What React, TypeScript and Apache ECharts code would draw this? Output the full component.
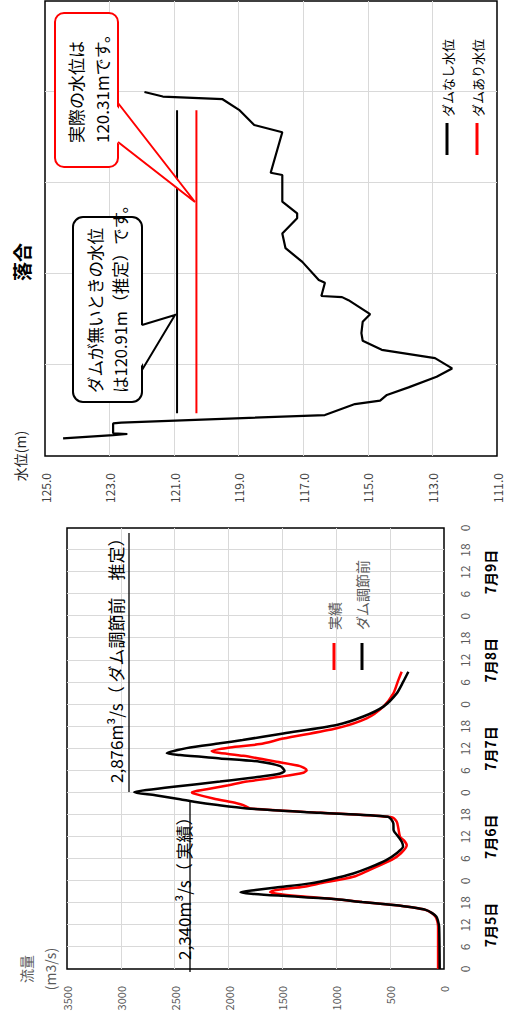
import React, { useEffect, useRef } from "react";
import * as echarts from "echarts";

// ---- Flow chart (流量) ----
const dayLabels = ["7月5日", "7月6日", "7月7日", "7月8日", "7月9日"];
// 実績 (actual outflow)
const actualHours = [0, 11.5, 13.0, 14.2, 15.2, 16.1, 16.8, 17.4, 18.2, 19.0, 19.7, 20.3, 20.9, 21.5, 22.4, 23.3, 25.1, 27.0, 29.7, 31.5, 33.7, 35.0, 36.0, 38.3, 40.1, 41.3, 42.5, 43.7, 44.6, 45.1, 46.4, 47.8, 48.1, 48.9, 50.0, 51.0, 52.3, 53.4, 54.1, 55.2, 56.4, 58.0, 58.9, 59.3, 60.3, 61.2, 62.7, 65.5, 68.2, 71.4, 75.0, 78.6, 80.9];
const actualFlow = [55, 55, 62, 78, 112, 172, 300, 470, 760, 1000, 1300, 1500, 1615, 1560, 1300, 1150, 842, 690, 486, 400, 346, 372, 408, 424, 439, 486, 1130, 1800, 1863, 1925, 2142, 2328, 2340, 2203, 2000, 1832, 1523, 1306, 1275, 1337, 1553, 1863, 2110, 2157, 1987, 1708, 1492, 996, 718, 563, 470, 424, 393];
// ダム調節前 (before dam regulation, estimated)
const preHours = [0, 11.5, 13.0, 14.2, 15.2, 16.1, 16.8, 17.4, 18.2, 19.0, 19.9, 20.5, 20.9, 21.5, 22.2, 23.3, 24.5, 26.0, 27.5, 29.7, 31.5, 33.3, 34.5, 36.0, 37.8, 39.6, 41.4, 42.5, 43.7, 44.6, 45.5, 46.2, 47.3, 48.1, 48.7, 49.6, 51.0, 52.3, 53.2, 53.9, 55.2, 56.4, 57.3, 58.2, 58.7, 60.1, 61.4, 62.3, 64.1, 66.4, 68.7, 71.4, 75.0, 78.2, 80.9];
const preFlow = [40, 45, 55, 70, 110, 170, 300, 470, 760, 1000, 1490, 1790, 1890, 1750, 1560, 1244, 1040, 842, 700, 532, 440, 380, 390, 424, 468, 470, 520, 1150, 1830, 2100, 2320, 2450, 2680, 2876, 2760, 2510, 2080, 1710, 1520, 1480, 1520, 1710, 2080, 2450, 2574, 2390, 2080, 1870, 1492, 996, 749, 563, 439, 378, 331];

// ---- Water level chart (落合) ----
const levelHours = [4.66, 5.5, 5.8, 6.0, 8.6, 8.8, 10.8, 13.7, 14.6, 16.1, 18.1, 20.9, 23.1, 25.8, 28.0, 30.4, 32.4, 35.4, 37.4, 41.1, 41.9, 42.2, 45.7, 46.4, 51.2, 54.8, 58.7, 62.7, 64.0, 67.1, 74.1, 74.7, 85.4, 87.3, 91.3, 94.1, 94.8, 96.0];
const levelNoDam = [124.44, 122.89, 122.45, 122.89, 122.89, 122.64, 116.33, 115.4, 114.62, 114.41, 113.74, 112.87, 112.39, 112.92, 114.57, 115.16, 115.2, 115.16, 114.93, 115.6, 115.8, 116.44, 116.33, 116.52, 117.03, 117.55, 117.65, 117.19, 117.19, 117.65, 117.65, 118.01, 117.65, 118.52, 118.99, 119.5, 121.35, 121.92];
const peakLevelNoDam = 120.91;
const peakLevelWithDam = 120.31;
const peakLineHours = [11.25, 91.2];

const FONT = "'Noto Sans CJK JP', 'Noto Sans', sans-serif";

function App() {
  const ref = useRef<HTMLDivElement>(null);
  useEffect(() => {
    if (!ref.current) return;
    const chart = echarts.init(ref.current, undefined, { renderer: "svg" });
    const gridLine = { color: "#d9d9d9", width: 1 };
    const option: any = {
      animation: false,
      backgroundColor: "#fff",
      textStyle: { fontFamily: FONT },
      grid: [
        { left: 55, top: 67, width: 441, height: 377, show: true, borderColor: "#000", borderWidth: 1.5, backgroundColor: "transparent", containLabel: false, outerBoundsMode: "none" },
        { left: 568, top: 45, width: 455, height: 452, show: true, borderColor: "#000", borderWidth: 1.5, backgroundColor: "transparent", containLabel: false, outerBoundsMode: "none" },
      ],
      legend: [
        {
          data: ["実績", "ダム調節前"], orient: "vertical", left: 354, top: 326, icon: "rect", padding: 0,
          itemWidth: 27, itemHeight: 3, itemGap: 12, selectedMode: false,
          textStyle: { color: "#595959", fontSize: 14, lineHeight: 16, padding: [0, 0, 0, 8], fontFamily: FONT },
        },
        {
          data: ["ダムなし水位", "ダムあり水位"], orient: "vertical", left: 869, top: 439, icon: "rect", padding: 0,
          itemWidth: 32, itemHeight: 3, itemGap: 14, selectedMode: false,
          textStyle: { color: "#000", fontSize: 13, lineHeight: 16, padding: [0, 0, 0, 1], fontFamily: FONT },
        },
      ],
      xAxis: [
        {
          gridIndex: 0, type: "value", position: "bottom", min: 0, max: 120, interval: 6,
          axisLine: { show: false }, axisTick: { show: false },
          splitLine: { show: true, lineStyle: gridLine, showMinLine: false, showMaxLine: false },
          axisLabel: { formatter: (v: number) => String(v % 24), color: "#595959", fontSize: 12, margin: 14 },
        },
        {
          gridIndex: 0, type: "value", position: "bottom", offset: 0, min: 0, max: 120, interval: 12,
          axisLine: { show: false }, axisTick: { show: false }, splitLine: { show: false },
          axisLabel: {
            formatter: (v: number) => (v % 24 === 12 ? dayLabels[Math.floor(v / 24)] : ""),
            color: "#000", fontWeight: "bold", fontSize: 14, margin: 39,
          },
        },
        {
          gridIndex: 1, type: "value", min: 0, max: 120, interval: 24,
          axisLine: { show: false }, axisTick: { show: false }, axisLabel: { show: false },
          splitLine: { show: true, lineStyle: gridLine, showMinLine: false, showMaxLine: false },
        },
      ],
      yAxis: [
        {
          gridIndex: 0, type: "value", min: 0, max: 3500, interval: 500,
          name: "流量\n(m3/s)", nameLocation: "end", nameGap: -2,
          nameTextStyle: { color: "#595959", fontSize: 14, lineHeight: 24, align: "center", verticalAlign: "bottom" },
          axisLine: { show: false }, axisTick: { show: false },
          splitLine: { show: true, lineStyle: gridLine, showMinLine: false, showMaxLine: false },
          axisLabel: { formatter: (v: number) => String(v), color: "#595959", fontSize: 11, margin: 17 },
        },
        {
          gridIndex: 1, type: "value", min: 111, max: 125, interval: 2,
          name: "水位(m)", nameLocation: "end", nameGap: 18,
          nameTextStyle: { color: "#222", fontSize: 14, align: "center", verticalAlign: "bottom" },
          axisLine: { show: false }, axisTick: { show: false },
          splitLine: { show: true, lineStyle: gridLine, showMinLine: false, showMaxLine: false },
          axisLabel: { formatter: (v: number) => v.toFixed(1), color: "#404040", fontSize: 12, lineHeight: 10, margin: 17 },
        },
      ],
      series: [
        {
          name: "実績", type: "line", xAxisIndex: 0, yAxisIndex: 0, color: "#ff0000",
          data: actualHours.map((h, i) => [h, actualFlow[i]]),
          symbol: "none", smooth: 0.25, lineStyle: { width: 2.5 },
        },
        {
          name: "ダム調節前", type: "line", xAxisIndex: 0, yAxisIndex: 0, color: "#000000",
          data: preHours.map((h, i) => [h, preFlow[i]]),
          symbol: "none", smooth: 0.25, lineStyle: { width: 2.5 },
        },
        {
          name: "ダムなし水位", type: "line", xAxisIndex: 2, yAxisIndex: 1, color: "#000000",
          data: levelHours.map((h, i) => [h, levelNoDam[i]]),
          symbol: "none", lineStyle: { width: 2.2 },
        },
        {
          name: "ダムあり水位", type: "line", xAxisIndex: 2, yAxisIndex: 1, color: "#ff0000",
          data: peakLineHours.map((h) => [h, peakLevelWithDam]),
          symbol: "none", lineStyle: { width: 2 },
        },
        {
          name: "ダムなし最高水位", type: "line", xAxisIndex: 2, yAxisIndex: 1, color: "#000000",
          data: peakLineHours.map((h) => [h, peakLevelNoDam]),
          symbol: "none", lineStyle: { width: 2 },
        },
      ],
      graphic: {
        elements: [
          { type: "text", x: 762, y: 21, z: 100, style: { text: "落合", fontSize: 19, fontWeight: "bold", fill: "#000", align: "center", verticalAlign: "middle", fontFamily: FONT } },
          // flow annotations
          { type: "line", z: 100, shape: { x1: 52, y1: 190, x2: 224, y2: 190 }, style: { stroke: "#000", lineWidth: 1.3 } },
          { type: "text", x: 64, y: 183.5, z: 100, style: { text: "2,340m³/s（ 実績）", fontSize: 17, fill: "#000", align: "left", verticalAlign: "middle", fontFamily: FONT } },
          { type: "line", z: 100, shape: { x1: 232, y1: 129, x2: 491, y2: 129 }, style: { stroke: "#000", lineWidth: 1.3 } },
          { type: "text", x: 241, y: 115, z: 100, style: { text: "2,876m³/s（ ダム調節前　推定）", fontSize: 17, fill: "#000", align: "left", verticalAlign: "middle", fontFamily: FONT } },
          // red callout
          { type: "rect", z: 100, shape: { x: 857, y: 55, width: 154, height: 63, r: 9 }, style: { fill: "#fff", stroke: "#ff0000", lineWidth: 2 } },
          { type: "polygon", z: 101, shape: { points: [[920, 115], [883, 115], [822, 195]] }, style: { fill: "#fff" } },
          { type: "polyline", z: 102, shape: { points: [[921, 118], [822, 195], [882, 118]] }, style: { stroke: "#ff0000", lineWidth: 2, fill: null } },
          { type: "text", x: 881, y: 62.5, z: 103, style: { text: "実際の水位は\n120.31mです。", fontSize: 17, lineHeight: 26, fill: "#000", align: "left", verticalAlign: "top", fontFamily: FONT } },
          // black callout
          { type: "rect", z: 100, shape: { x: 622, y: 73, width: 185, height: 69, r: 10 }, style: { fill: "#fff", stroke: "#000", lineWidth: 2 } },
          { type: "polygon", z: 101, shape: { points: [[698, 139], [655, 139], [709, 175]] }, style: { fill: "#fff" } },
          { type: "polyline", z: 102, shape: { points: [[699, 142], [709, 175], [654, 142]] }, style: { stroke: "#000", lineWidth: 2, fill: null } },
          { type: "text", x: 631, y: 82, z: 103, style: { text: "ダムが無いときの水位\nは120.91m（推定）です。", fontSize: 16.5, lineHeight: 25.5, fill: "#000", align: "left", verticalAlign: "top", fontFamily: FONT } },
        ],
      },
    };
    chart.setOption(option);
    return () => chart.dispose();
  }, []);

  return (
    <div style={{ position: "fixed", left: 0, top: 0, width: 505, height: 1024, overflow: "hidden", background: "#fff" }}>
      <div
        style={{
          position: "absolute", left: 0, top: 0, width: 1024, height: 505,
          transformOrigin: "0 0", transform: "translateY(1024px) rotate(-90deg)",
        }}
      >
        <div ref={ref} style={{ width: 1024, height: 505 }} />
      </div>
    </div>
  );
}

export default App;
